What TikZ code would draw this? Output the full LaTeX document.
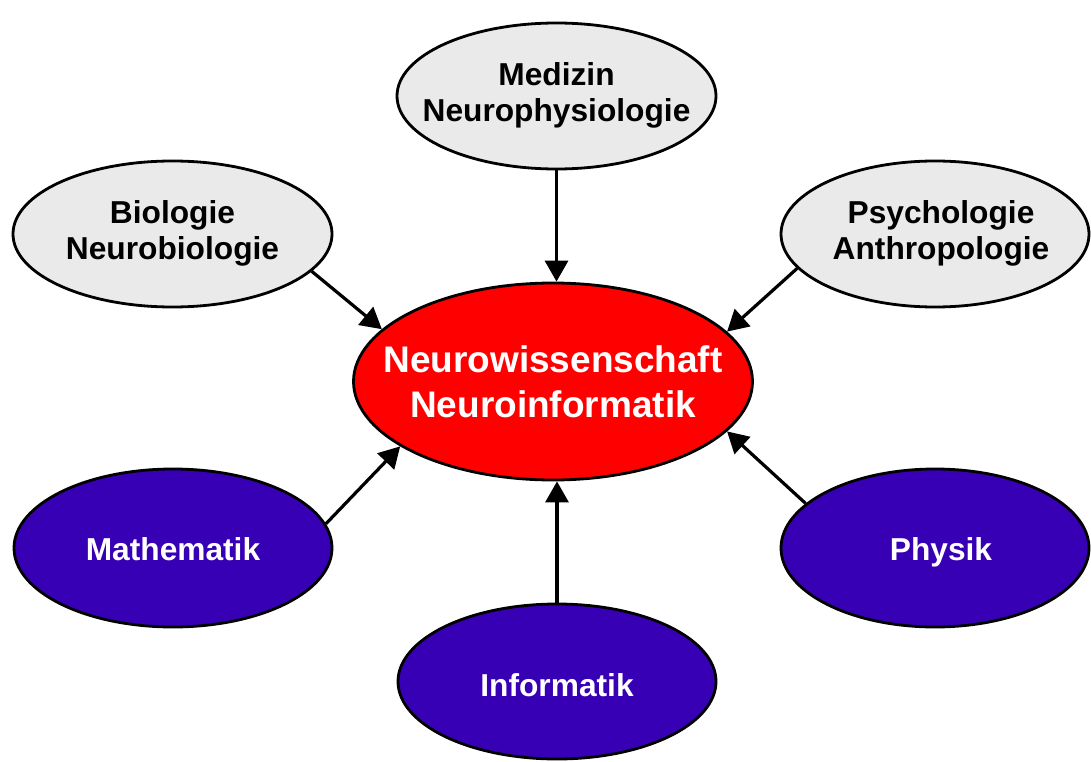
\documentclass[tikz,border=0pt]{standalone}
\usepackage{fontspec}
\setmainfont{Liberation Sans}
\usetikzlibrary{shapes.geometric,arrows.meta}
\definecolor{softgray}{RGB}{234,234,234}
\definecolor{deepviolet}{RGB}{56,0,180}
\definecolor{signalred}{RGB}{255,0,0}
\begin{document}
\begin{tikzpicture}[x=1pt,y=-1pt,
  field/.style={ellipse, draw=black, line width=2.8pt, inner sep=0pt},
  source/.style={field, fill=softgray},
  method/.style={field, fill=deepviolet},
  core/.style={field, fill=signalred},
  darktext/.style={font=\bfseries\fontsize{31.7}{36}\selectfont, align=center, text=black},
  lighttext/.style={font=\bfseries\fontsize{31.7}{36}\selectfont, align=center, text=white},
  coretext/.style={font=\bfseries\fontsize{37}{45}\selectfont, align=center, text=white},
  link/.style={line width=3.2pt, -{Triangle[length=21pt,width=23pt]}}]
\useasboundingbox (0,0) rectangle (1091,762);

% central field
\node[core, minimum width=399, minimum height=197,
  label={[coretext]center:Neurowissenschaft\\Neuroinformatik}] (nw) at (553,381.5) {};

% neighbouring disciplines (grey)
\node[source, minimum width=319, minimum height=146,
  label={[darktext, yshift=1]center:Medizin\\Neurophysiologie}] (med) at (556.5,96) {};
\node[source, minimum width=319, minimum height=146,
  label={[darktext, yshift=1]center:Biologie\\Neurobiologie}] (bio) at (172.5,234) {};
\node[source, minimum width=308, minimum height=146,
  label={[darktext, xshift=6, yshift=1]center:Psychologie\\Anthropologie}] (psy) at (935,234) {};

% formal and physical sciences (violet)
\node[method, minimum width=318, minimum height=158,
  label={[lighttext, yshift=-1]center:Mathematik}] (math) at (173,548) {};
\node[method, minimum width=308, minimum height=158,
  label={[lighttext, xshift=6, yshift=-4]center:Physik}] (phys) at (935,548) {};
\node[method, minimum width=318, minimum height=155,
  label={[lighttext, yshift=-4]center:Informatik}] (inf) at (557,681.5) {};

% contributions to the centre
\draw[link] (med.south) -- (med.south |- nw.north);
\draw[link] (bio.-15.8) -- (nw.163.8);
\draw[link] (psy.-166) -- (nw.16.7);
\draw[link] (math.9.9) -- (nw.-157.8);
\draw[link] (phys.161.4) -- (nw.-16);
\draw[link] (inf.north) -- (inf.north |- nw.south);
\end{tikzpicture}
\end{document}
